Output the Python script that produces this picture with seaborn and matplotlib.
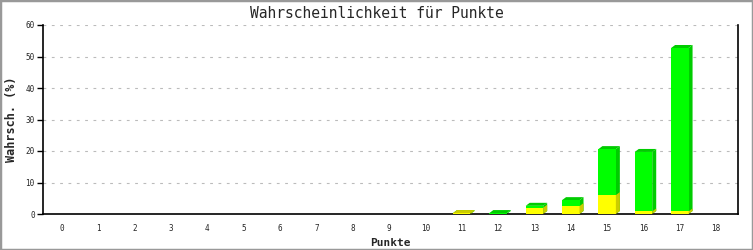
import matplotlib
matplotlib.use("Agg")
import matplotlib.pyplot as plt
import seaborn as sns
import pandas as pd
import numpy as np
from matplotlib.patches import Polygon, Rectangle

punkte = list(range(19))
gelb = [0, 0, 0, 0, 0, 0, 0, 0, 0, 0, 0, 0.3, 0, 2.0, 2.5, 6.0, 0.8, 0.8, 0]
gruen = [0, 0, 0, 0, 0, 0, 0, 0, 0, 0, 0, 0, 0.3, 0.6, 1.9, 14.6, 18.9, 51.9, 0]
y_ticks = [0, 10, 20, 30, 40, 50, 60]

title = "Wahrscheinlichkeit für Punkte"
xlabel = "Punkte"
ylabel = "Wahrsch. (%)"

df = pd.DataFrame({"Punkte": [str(p) for p in punkte],
                   "gelb": gelb,
                   "gruen": gruen,
                   "total": np.array(gelb) + np.array(gruen)})

sns.set_style("white")
plt.rcParams["font.family"] = ["DejaVu Sans Mono", "DejaVu Sans"]

fig = plt.figure(figsize=(7.53, 2.5), dpi=100)
ax = fig.add_axes([43/753, 1-214/250, (738-43)/753, (214-25)/250])

order = [str(p) for p in punkte]
sns.barplot(data=df, x="Punkte", y="total", order=order, color="#00FF00",
            saturation=1, width=0.48, ax=ax, linewidth=0, zorder=3)
n_green = len(ax.patches)
sns.barplot(data=df, x="Punkte", y="gelb", order=order, color="#FFFF00",
            saturation=1, width=0.48, ax=ax, linewidth=0, zorder=4)

# 3D sides / tops derived from the bars
dx, dy = 0.11, 0.95
patches = list(ax.patches)
for i, p in enumerate(patches):
    is_green = i < n_green
    idx = i if is_green else i - n_green
    x0 = p.get_x(); w = p.get_width(); h = p.get_height(); y0 = p.get_y()
    if h <= 0:
        continue
    col = "#00CC00" if is_green else "#CCCC00"
    z = 2 if is_green else 4
    y1 = y0 + h
    side = Polygon([(x0 + w, y0), (x0 + w + dx, y0 + dy), (x0 + w + dx, y1 + dy), (x0 + w, y1)],
                   closed=True, facecolor=col, edgecolor="none", zorder=z)
    ax.add_patch(side)
    if is_green or gruen[idx] <= 0:
        top = Polygon([(x0, y1), (x0 + dx, y1 + dy), (x0 + w + dx, y1 + dy), (x0 + w, y1)],
                      closed=True, facecolor=col, edgecolor="none", zorder=z)
        ax.add_patch(top)

ax.set_xlim(-0.52, 18.6)
ax.set_ylim(0, 60)
ax.set_yticks(y_ticks)
ax.set_yticklabels([str(t) for t in y_ticks])
ax.yaxis.grid(True, color="#BBBBBB", linestyle=(0, (2.5, 5)), linewidth=0.8, zorder=0)
ax.set_axisbelow(True)

for s in ["left", "bottom", "right"]:
    ax.spines[s].set_visible(True)
    ax.spines[s].set_color("black")
    ax.spines[s].set_linewidth(1.2)
ax.spines["top"].set_visible(False)

ax.tick_params(axis="y", length=4, width=1, color="black", labelsize=5.5, pad=2, left=True)
ax.tick_params(axis="x", length=0, labelsize=5.5, pad=7)

ax.set_xlabel(xlabel, fontsize=8, fontweight="bold", labelpad=4)
ax.set_ylabel(ylabel, fontsize=8.5, fontweight="bold")
ax.yaxis.set_label_coords((18 - 43) / 695, 0.5)
fig.text(0.5, 1 - 13/250, title, ha="center", va="center", fontsize=10.5)

fig.patches.append(Rectangle((0, 0), 1, 1, transform=fig.transFigure, fill=False,
                             edgecolor="#999999", linewidth=2.5, zorder=10))

fig.savefig("out.png", dpi=100)
